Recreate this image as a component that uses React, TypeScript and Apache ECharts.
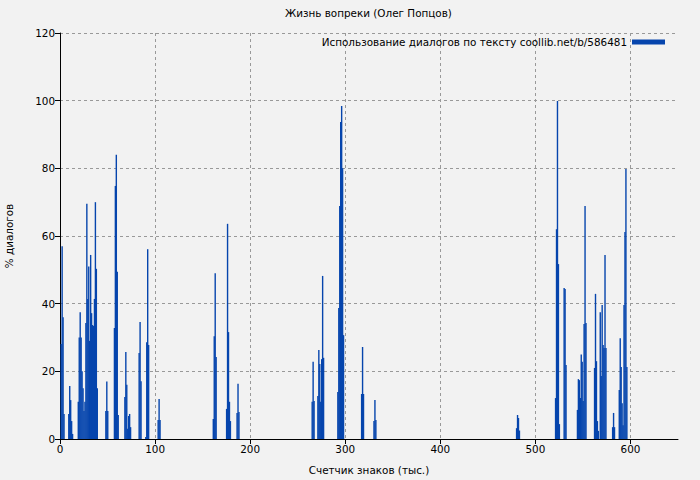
import React, { useEffect, useRef } from "react";
import * as echarts from "echarts";

const TITLE = "Жизнь вопреки (Олег Попцов)";
const SERIES_NAME = "Использование диалогов по тексту coollib.net/b/586481";
const X_NAME = "Счетчик знаков (тыс.)";
const Y_NAME = "% диалогов";

const xTicks = [0, 100, 200, 300, 400, 500, 600];
const yTicks = [0, 20, 40, 60, 80, 100, 120];

// position in thousands of characters
const positions = [
  1, 2, 3, 4, 9, 10, 11, 12, 13, 19, 20, 21, 22, 23, 24, 25, 26, 27, 28, 29, 30, 31, 32, 33, 34, 35, 36, 37, 38, 39, 48, 49, 50,
  57, 58, 59, 60, 61, 68, 69, 70, 71, 72, 73, 74, 83, 84, 85, 90, 91, 92, 93, 103, 104, 105,
  161, 162, 163, 164, 175, 176, 177, 178, 179, 186, 187, 188,
  265, 266, 267, 271, 272, 273, 274, 275, 276, 277, 292, 293, 294, 295, 296, 297, 298, 317, 318, 319, 330, 331, 332,
  480, 481, 482, 483,
  521, 522, 523, 524, 525, 530, 531, 532, 544, 545, 546, 547, 548, 549, 550, 551, 552, 553,
  562, 563, 564, 565, 566, 568, 569, 570, 571, 572, 573, 574, 581, 582, 583, 588, 589, 590, 591, 592, 593, 594, 595, 596,
];

// percent of dialogues
const percents = [
  28.1, 57, 36, 7.4, 7.4, 15.7, 11.5, 5.3, 1.5, 11, 30, 37.5, 30, 20, 15, 8.3, 11, 34.3, 69.5, 41.4, 51, 29, 54.4, 37.2, 33.7, 33.4, 41.4, 70, 50.3, 15, 8.3, 17, 8.3,
  32.8, 74.8, 84, 49.4, 7.1, 12.4, 25.7, 16, 3, 6.8, 7.4, 3.5, 25.4, 34.6, 17.1, 0.6, 28.6, 56.1, 27.8, 5.6, 11.8, 5.6,
  5.9, 30.4, 49, 24.2, 8.9, 63.6, 31.6, 11, 5.3, 7.7, 16.3, 8,
  11, 22.8, 11.2, 12.7, 26.3, 22.2, 11, 23.6, 48.2, 24, 13.9, 38.7, 68.9, 93.7, 98.4, 80, 30.7, 13.3, 27.2, 13.3, 5.3, 11.5, 5.6,
  3.2, 7.1, 6.2, 2.5,
  12.1, 62, 99.9, 51.7, 4.4, 44.6, 44.3, 21.9, 8.6, 17.7, 17.4, 12.1, 25, 22.8, 11.2, 34, 68.9, 34.3,
  21, 42.9, 23, 5.3, 2.4, 37.5, 18.6, 39.6, 27.8, 26.9, 54.4, 26.9, 3.5, 7.7, 3.5, 14.5, 29.8, 21.3, 10.6, 4.1, 39.6, 61.2, 79.8, 21.3,
];

const BAR_COLOR = "#0645ad";
const FONT = "DejaVu Sans";
const FS = 10.4;

export default function App() {
  const ref = useRef<HTMLDivElement>(null);

  useEffect(() => {
    if (!ref.current) return;
    const chart = echarts.init(ref.current, null, { renderer: "svg" });
    const data = positions.map((p, i) => [p, percents[i]]);

    const option: any = {
      animation: false,
      backgroundColor: "#f2f2f2",
      textStyle: { fontFamily: FONT, fontSize: FS, color: "#000" },
      title: {
        text: TITLE,
        left: 285,
        top: 8,
        padding: 0,
        textStyle: { fontFamily: FONT, fontSize: FS, fontWeight: "normal", color: "#000" },
      },
      legend: {
        right: 35,
        top: 37,
        padding: 0,
        align: "right",
        itemWidth: 33,
        itemHeight: 5,
        icon: "rect",
        selectedMode: false,
        textStyle: { fontFamily: FONT, fontSize: FS, color: "#000" },
        data: [{ name: SERIES_NAME, icon: "rect", itemStyle: { color: BAR_COLOR } }],
      },
      grid: { left: 60, right: 22, top: 33, bottom: 41, containLabel: false, outerBoundsMode: "none" },
      xAxis: {
        type: "value",
        min: 0,
        max: 650,
        interval: 100,
        name: X_NAME,
        nameLocation: "middle",
        nameGap: 26,
        nameTextStyle: { fontFamily: FONT, fontSize: FS, color: "#000" },
        axisLine: { show: true, onZero: false, lineStyle: { color: "#000", width: 1 } },
        axisTick: { show: true, inside: false, length: 5, customValues: xTicks, lineStyle: { color: "#000" } },
        axisLabel: { customValues: xTicks, margin: 5, fontFamily: FONT, fontSize: FS, color: "#000" },
        splitLine: { show: true, lineStyle: { color: "#999999", type: [3, 3], width: 1 } },
      },
      yAxis: {
        type: "value",
        min: 0,
        max: 120,
        interval: 20,
        name: Y_NAME,
        nameLocation: "middle",
        nameRotate: 90,
        nameGap: 46,
        nameTextStyle: { fontFamily: FONT, fontSize: FS, color: "#000" },
        axisLine: { show: true, onZero: false, lineStyle: { color: "#000", width: 1 } },
        axisTick: { show: true, inside: false, length: 5, customValues: yTicks, lineStyle: { color: "#000" } },
        axisLabel: { customValues: yTicks, margin: 5, fontFamily: FONT, fontSize: FS, color: "#000" },
        splitLine: { show: true, lineStyle: { color: "#999999", type: [3, 3], width: 1 } },
      },
      series: [
        {
          name: SERIES_NAME,
          type: "custom",
          itemStyle: { color: BAR_COLOR },
          encode: { x: 0, y: 1 },
          data,
          renderItem: (params: any, api: any) => {
            const x = api.value(0);
            const y = api.value(1);
            const top = api.coord([x - 0.5, y]);
            const base = api.coord([x - 0.5, 0]);
            const w = Math.max(api.size([1, 0])[0], 1.4);
            return {
              type: "rect",
              shape: { x: top[0], y: top[1], width: w, height: base[1] - top[1] },
              style: { fill: BAR_COLOR },
            };
          },
        },
      ],
    };
    chart.setOption(option);
    return () => chart.dispose();
  }, []);

  return (
    <div
      ref={ref}
      style={{ position: "absolute", left: 0, top: 0, width: 700, height: 480 }}
    />
  );
}
